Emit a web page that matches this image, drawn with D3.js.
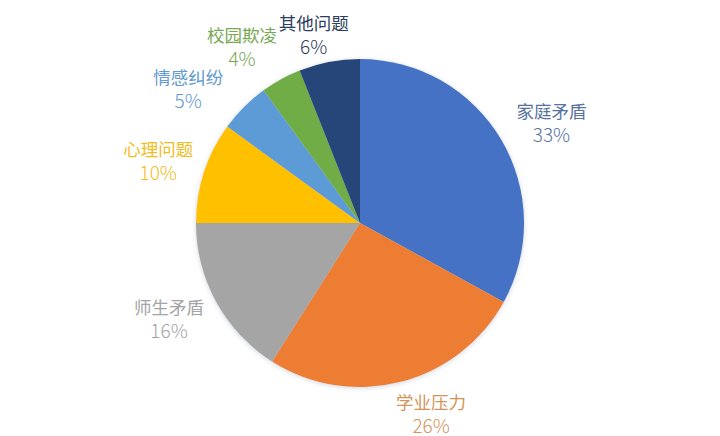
<!DOCTYPE html>
<html>
<head>
<meta charset="utf-8">
<script src="https://cdn.jsdelivr.net/npm/d3@7"></script>
<style>
  html, body { margin: 0; padding: 0; background: #fff; }
  svg text { font-family: "Noto Sans CJK SC", "Noto Sans", sans-serif; }
</style>
</head>
<body>
<svg id="chart"></svg>
<script>
// categories and their shares (%)
const categories = ["家庭矛盾", "学业压力", "师生矛盾", "心理问题", "情感纠纷", "校园欺凌", "其他问题"];
const shares = [33, 26, 16, 10, 5, 4, 6];
const pieColors = ["#4472C4", "#ED7D31", "#A5A5A5", "#FFC000", "#5B9BD5", "#70AD47", "#264478"];
const labelColors = ["#56739e", "#d2955a", "#a4a4a8", "#f0bd22", "#5f9ad0", "#78a855", "#2c3d5e"];

// layout
const w = 720, h = 436;
const cx = 360, cy = 223, radius = 164;
// label distance from centre, per slice
const labelRadius = [216, 204, 214, 211, 218, 212, 194];
const labelTurn = [3, -6, 2, -1, -7, -5, -3]; // degrees

const svg = d3.select("#chart")
  .attr("width", w)
  .attr("height", h);

const defs = svg.append("defs");
const shadow = defs.append("filter")
  .attr("id", "soft")
  .attr("x", "-10%").attr("y", "-10%")
  .attr("width", "120%").attr("height", "120%");
shadow.append("feDropShadow")
  .attr("dx", 0).attr("dy", 1)
  .attr("stdDeviation", 2.5)
  .attr("flood-color", "#9aa3b5")
  .attr("flood-opacity", 0.45);

const data = categories.map((c, i) => ({ name: c, value: shares[i], i: i }));

const pie = d3.pie()
  .value(d => d.value)
  .sort(null);

const arc = d3.arc()
  .innerRadius(0)
  .outerRadius(radius);

const g = svg.append("g")
  .attr("transform", "translate(" + cx + "," + cy + ")");

const arcs = pie(data);

g.append("g")
  .attr("filter", "url(#soft)")
  .selectAll("path")
  .data(arcs)
  .enter()
  .append("path")
  .attr("d", arc)
  .attr("fill", d => pieColors[d.data.i]);

//Labels
const labels = g.selectAll("g.label")
  .data(arcs)
  .enter()
  .append("g")
  .attr("class", "label")
  .attr("transform", d => {
    const r = labelRadius[d.data.i];
    const a = (d.startAngle + d.endAngle) / 2 + labelTurn[d.data.i] * Math.PI / 180;
    const la = d3.arc().innerRadius(r).outerRadius(r)
      .startAngle(a).endAngle(a);
    const c = la.centroid();
    return "translate(" + c[0] + "," + c[1] + ")";
  })
  .attr("fill", d => labelColors[d.data.i])
  .attr("text-anchor", "middle");

labels.append("text")
  .attr("y", -5)
  .style("font-size", "17.5px")
  .text(d => d.data.name);

labels.append("text")
  .attr("y", 19)
  .style("font-size", "19px")
  .style("font-weight", 300)
  .text(d => d.data.value + "%");
</script>
</body>
</html>
